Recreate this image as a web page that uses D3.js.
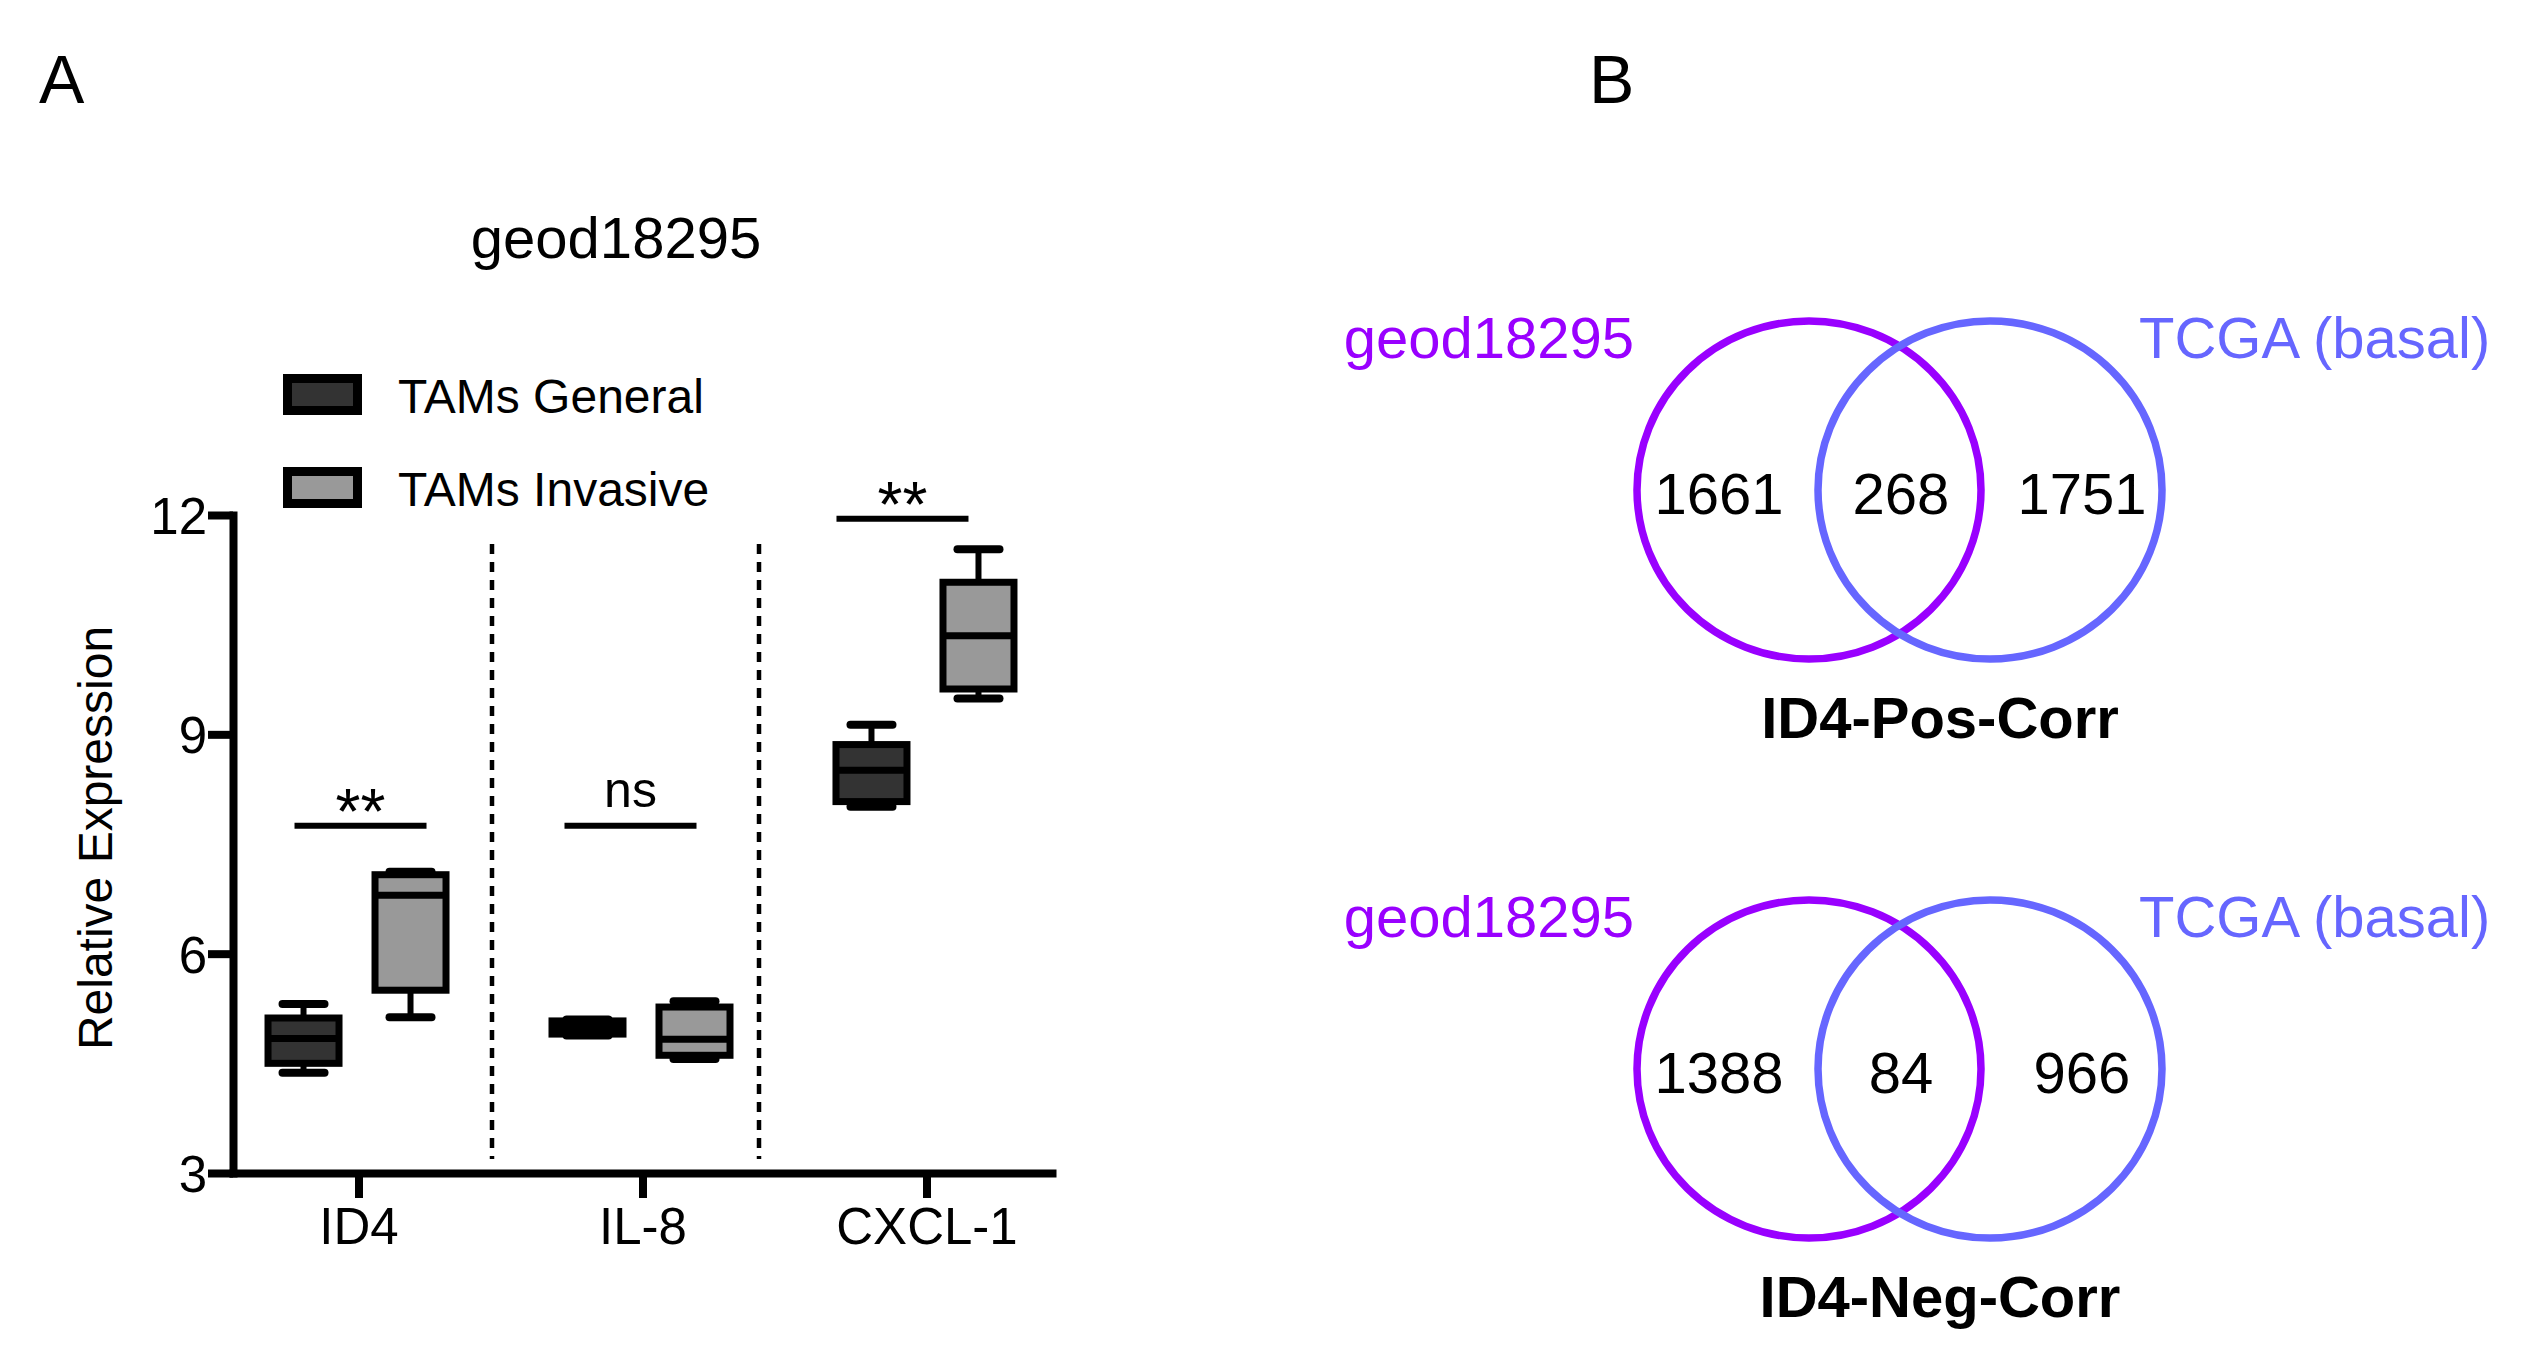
<!DOCTYPE html>
<html>
<head>
<meta charset="utf-8">
<script src="https://cdn.jsdelivr.net/npm/d3@7"></script>
<style>
  body { margin: 0; background: #fff; }
  svg { display: block; font-family: "Liberation Sans", Arial, sans-serif; }
</style>
</head>
<body>
<svg></svg>
<script>
// ---- data ----
var categories = ["ID4", "IL-8", "CXCL-1"];
var seriesNames = ["TAMs General", "TAMs Invasive"];
// min, q1, median, q3, max
var generalBoxes = [
  [4.37, 4.50, 4.84, 5.12, 5.31],
  [4.88, 4.90, 4.99, 5.08, 5.10],
  [8.01, 8.08, 8.51, 8.86, 9.13]
];
var invasiveBoxes = [
  [5.13, 5.50, 6.80, 7.08, 7.12],
  [4.56, 4.61, 4.83, 5.27, 5.35],
  [9.49, 9.62, 10.35, 11.08, 11.53]
];
var yTicks = [3, 6, 9, 12];
var sigLabels = ["**", "ns", "**"];
var sigLevels = [7.75, 7.75, 11.95];

var vennSets = ["geod18295", "TCGA (basal)"];
var vennTitles = ["ID4-Pos-Corr", "ID4-Neg-Corr"];
var posCounts = [1661, 268, 1751];
var negCounts = [1388, 84, 966];

// ---- layout ----
var width = 2529;
var height = 1360;
var plotLeft = 233, plotRight = 1052, plotTop = 515, plotBottom = 1173;
var boxW = 71, capW = 42;
var fills = ["#333333", "#999999"];
var sigShift = [2, -12, -24];
var dividerX = [492, 759];

var svg = d3.select("svg")
  .attr("width", width)
  .attr("height", height);

var y = d3.scaleLinear()
  .domain([3, 12])
  .range([plotBottom, plotTop]);

var x = d3.scalePoint()
  .domain(categories)
  .range([plotLeft, plotRight])
  .padding(0.442);

var sub = d3.scalePoint()
  .domain(seriesNames)
  .range([-55, 52]);

// panel letters
svg.append("text").attr("x", 39).attr("y", 103).attr("font-size", 68).text("A");
svg.append("text").attr("x", 1589).attr("y", 103).attr("font-size", 68).text("B");

// title
svg.append("text")
  .attr("x", 616)
  .attr("y", 258)
  .attr("font-size", 58)
  .attr("text-anchor", "middle")
  .text("geod18295");

// dashed dividers
svg.selectAll("line.divider")
  .data(dividerX)
  .enter()
  .append("line")
    .attr("class", "divider")
    .attr("x1", d => d).attr("x2", d => d)
    .attr("y1", 544).attr("y2", 1159)
    .attr("stroke", "#000")
    .attr("stroke-width", 4.5)
    .attr("stroke-dasharray", "10,8");

// axes
var yAxis = d3.axisLeft(y)
  .tickValues(yTicks)
  .tickSize(25)
  .tickSizeOuter(0);

var xAxis = d3.axisBottom(x)
  .tickSize(25)
  .tickSizeOuter(0);

var gy = svg.append("g")
  .attr("transform", "translate(" + plotLeft + ",0)")
  .call(yAxis);

var gx = svg.append("g")
  .attr("transform", "translate(0," + plotBottom + ")")
  .call(xAxis);

[gx, gy].forEach(function (g) {
  g.attr("font-family", null);
  g.select(".domain").attr("stroke-width", 8).attr("stroke-linecap", "square");
  g.selectAll(".tick line").attr("stroke-width", 8);
  g.selectAll(".tick text").attr("font-size", 51).attr("fill", "#000");
});
gy.selectAll(".tick text").attr("x", -26).attr("dy", "0.36em");
gx.selectAll(".tick text").attr("y", 71).attr("dy", 0);

svg.append("text")
  .attr("transform", "translate(112," + ((plotTop + plotBottom) / 2 - 6) + ") rotate(-90)")
  .attr("font-size", 48)
  .attr("text-anchor", "middle")
  .text("Relative Expression");

// boxes
var boxData = [];
categories.forEach(function (c, i) {
  boxData.push({ cat: c, s: seriesNames[0], v: generalBoxes[i], fill: fills[0] });
  boxData.push({ cat: c, s: seriesNames[1], v: invasiveBoxes[i], fill: fills[1] });
});

var boxes = svg.selectAll("g.box")
  .data(boxData)
  .enter()
  .append("g")
    .attr("class", "box")
    .attr("transform", d => "translate(" + (x(d.cat) + sub(d.s)) + ",0)");

boxes.append("line")
  .attr("x1", 0).attr("x2", 0)
  .attr("y1", d => y(d.v[0])).attr("y2", d => y(d.v[4]))
  .attr("stroke", "#000").attr("stroke-width", 6);

boxes.selectAll("line.cap")
  .data(d => [d.v[0], d.v[4]])
  .enter()
  .append("line")
    .attr("class", "cap")
    .attr("x1", -capW / 2).attr("x2", capW / 2)
    .attr("y1", d => y(d)).attr("y2", d => y(d))
    .attr("stroke", "#000").attr("stroke-width", 8)
    .attr("stroke-linecap", "round");

boxes.append("rect")
  .attr("x", -boxW / 2)
  .attr("width", boxW)
  .attr("y", d => y(d.v[3]))
  .attr("height", d => y(d.v[1]) - y(d.v[3]))
  .attr("fill", d => d.fill)
  .attr("stroke", "#000")
  .attr("stroke-width", 7);

boxes.append("line")
  .attr("x1", -boxW / 2).attr("x2", boxW / 2)
  .attr("y1", d => y(d.v[2])).attr("y2", d => y(d.v[2]))
  .attr("stroke", "#000").attr("stroke-width", 7);

// significance bars
var sig = svg.selectAll("g.sig")
  .data(categories)
  .enter()
  .append("g")
    .attr("class", "sig")
    .attr("transform", (d, i) => "translate(" + (x(d) + sigShift[i]) + "," + y(sigLevels[i]) + ")");

sig.append("line")
  .attr("x1", -66).attr("x2", 66)
  .attr("stroke", "#000").attr("stroke-width", 6);

sig.append("text")
  .attr("text-anchor", "middle")
  .attr("font-size", (d, i) => sigLabels[i] == "ns" ? 50 : 64)
  .attr("y", (d, i) => sigLabels[i] == "ns" ? -19 : 8)
  .text((d, i) => sigLabels[i]);

// legend
var legend = svg.selectAll("g.legend")
  .data(seriesNames)
  .enter()
  .append("g")
    .attr("class", "legend")
    .attr("transform", (d, i) => "translate(0," + (i * 93) + ")");

legend.append("rect")
  .attr("x", 287.5).attr("y", 378.5)
  .attr("width", 70).attr("height", 32)
  .attr("fill", (d, i) => fills[i])
  .attr("stroke", "#000")
  .attr("stroke-width", 9);

legend.append("text")
  .attr("x", 398).attr("y", 413)
  .attr("font-size", 48)
  .text(d => d);

// ---- Venn diagrams ----
var vennColors = ["#9900ff", "#6666ff"];
var vennCx = [1809, 1990];
var vennCy = [490, 1069];
var vennCounts = [posCounts, negCounts];
var countX = [1719, 1901, 2082];

var venn = svg.selectAll("g.venn")
  .data(vennTitles)
  .enter()
  .append("g")
    .attr("class", "venn")
    .attr("transform", (d, i) => "translate(0," + vennCy[i] + ")");

venn.selectAll("ellipse")
  .data(vennSets)
  .enter()
  .append("ellipse")
    .attr("cx", (d, j) => vennCx[j])
    .attr("cy", 0)
    .attr("rx", 172).attr("ry", 169)
    .attr("fill", "none")
    .attr("stroke", (d, j) => vennColors[j])
    .attr("stroke-width", 7.5);

venn.selectAll("text.set")
  .data(vennSets)
  .enter()
  .append("text")
    .attr("class", "set")
    .attr("x", (d, j) => j == 0 ? 1634 : 2139)
    .attr("y", -132)
    .attr("text-anchor", (d, j) => j == 0 ? "end" : "start")
    .attr("font-size", 58)
    .attr("fill", (d, j) => vennColors[j])
    .text(d => d);

venn.selectAll("text.count")
  .data((d, i) => vennCounts[i])
  .enter()
  .append("text")
    .attr("class", "count")
    .attr("x", (d, j) => countX[j])
    .attr("y", 24)
    .attr("text-anchor", "middle")
    .attr("font-size", 58)
    .text(d => d);

venn.append("text")
  .attr("x", 1940)
  .attr("y", 248)
  .attr("text-anchor", "middle")
  .attr("font-size", 58)
  .attr("font-weight", "bold")
  .text(d => d);
</script>
</body>
</html>
